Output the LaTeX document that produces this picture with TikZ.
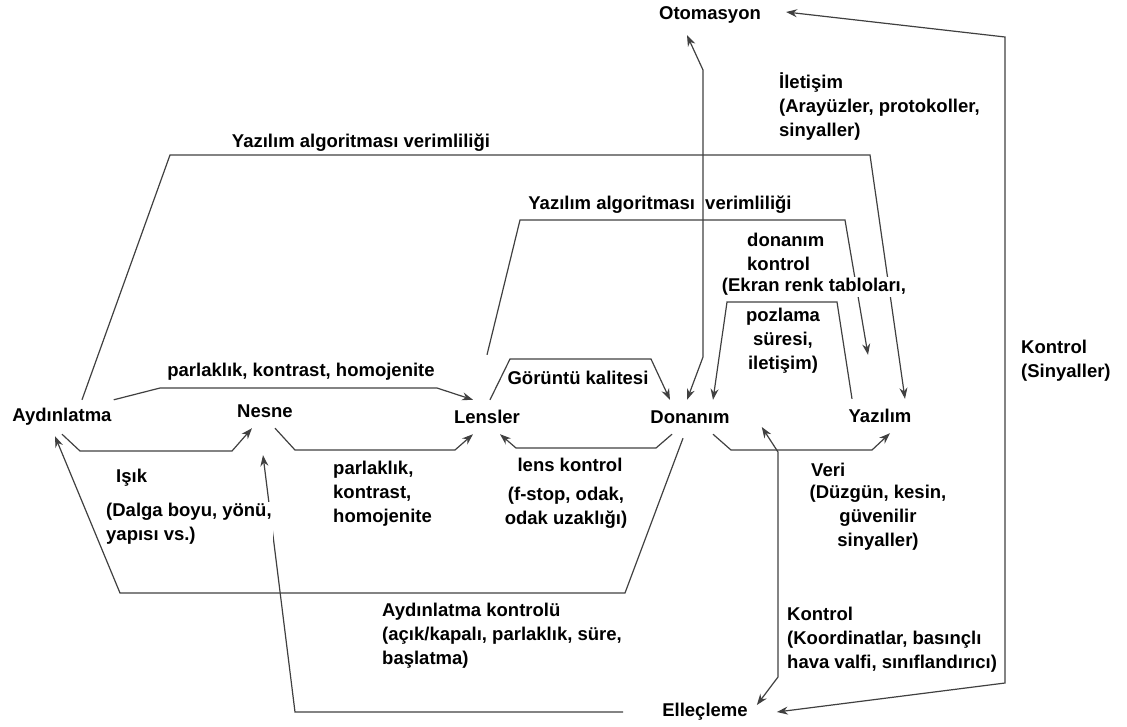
\documentclass[tikz,border=0pt]{standalone}
\usepackage{fontspec}
\setmainfont{Liberation Sans}
\usetikzlibrary{arrows.meta}
\usetikzlibrary{positioning}

\begin{document}
\begin{tikzpicture}[x=1pt, y={(0pt,-1pt)},
		>={Stealth[length=11pt, width=8pt]},
		every node/.style={font=\bfseries\fontsize{18.5}{24}\selectfont},
		unit/.style={inner sep=2pt, minimum height=34pt},
		lbl/.style={inner sep=1pt},
		mask/.style={lbl, fill=white},
		link/.style={draw=black!75, line width=1.2pt, ->},
		both/.style={link, <->},
	]
	\useasboundingbox (0,0) rectangle (1127,726);
	
	\node[unit] (ayd) at (62,417) {Aydınlatma};
	\node[unit] (nes) at (265,411) {Nesne};
	\node[unit] (lens) at (487,417) {Lensler};
	\node[unit] (don) at (690,417) {Donanım};
	\node[unit] (yaz) at (880,416) {Yazılım};
	\node[unit] (oto) at (710,15) {Otomasyon};
	\node[unit] (ell) at (705,712) {Elleçleme};
	
	\draw[link] (ayd.north east) -- (160,388) -- (437,388) -- ([shift={(-14,0)}]lens.north);
	\draw[link] (ayd.south) -- (80,451) -- (232,451) -- ([shift={(-13,0)}]nes.south);
	\draw[link] ([shift={(10,0)}]nes.south) -- (295,450) -- (455,450) -- ([shift={(-14,0)}]lens.south);
	\draw[link] ([shift={(-18,0)}]don.south) -- (656,448) -- (516,448) -- ([shift={(13,0)}]lens.south);
	\draw[link] ([shift={(3,0)}]lens.north) -- (510,359) -- (651,359) -- ([shift={(-20,0)}]don.north);
	\draw[link] ([shift={(23,0)}]don.south) -- (731,450) -- (872,450) -- ([shift={(10,0)}]yaz.south);
	\draw[link] ([shift={(0,-45)}]lens.north) -- (520,220) -- (845,220) -- ([shift={(-12,-44)}]yaz.north);
	\draw[link] ([shift={(20,0)}]ayd.north) -- (170,155) -- (870,155) -- ([shift={(25,0)}]yaz.north);
	\draw[link] ([shift={(-28,0)}]yaz.north) -- (837,302) -- (727,302) -- ([shift={(23,0)}]don.north);
	\draw[both] ([shift={(-3,0)}]don.north) -- (703,357) -- (703,70) -- ([shift={(-23,3)}]oto.south);
	\draw[both] ([shift={(23,-3)}]oto.east) -- (1005,37) -- (1005,683) -- ([shift={(27,0)}]ell.east);
	\draw[both] ([shift={(30,10)}]don.east) -- (778,452) -- (778,677) -- ([shift={(7,-7)}]ell.east);
	\draw[link] ([shift={(-37,0)}]ell.west) -- (295,712) -- ([shift={(-2,27)}]nes.south);
	\draw[link] ([shift={(-7,4)}]don.south) -- (625,593) -- (120,593) -- ([shift={(-7,2)}]ayd.south);
	
	\node[lbl] (l-pkh) at (301,372) {parlaklık, kontrast, homojenite};
	\node[lbl] (l-gor) at (578,378) {Görüntü kalitesi};
	\node[lbl, anchor=west] (l-isik) at (115,478) {Işık};
	\node[mask, align=left, anchor=west] (l-dalga) at (105,524) {(Dalga boyu, yönü,\\yapısı vs.)};
	\node[lbl, align=left, anchor=west] (l-pkh2) at (332,494) {parlaklık,\\kontrast,\\homojenite};
	\node[lbl] (l-lens) at (570,465) {lens kontrol};
	\node[lbl, align=center] (l-fstop) at (566,508) {(f-stop, odak,\\odak uzaklığı)};
	\node[lbl, anchor=west] (l-veri) at (810,470) {Veri};
	\node[lbl, align=center] (l-veri2) at (878,518) {(Düzgün, kesin,\\güvenilir\\sinyaller)};
	\node[lbl, align=left, anchor=west] (l-aydk) at (381,636) {Aydınlatma kontrolü\\(açık/kapalı, parlaklık, süre,\\başlatma)};
	\node[lbl, align=left, anchor=west] (l-ellk) at (786,640) {Kontrol\\(Koordinatlar, basınçlı\\hava valfi, sınıflandırıcı)};
	\node[lbl, align=left, anchor=west] (l-sin) at (1020,361) {Kontrol\\(Sinyaller)};
	\node[lbl, align=left, anchor=west] (l-ilet) at (778,106) {İletişim\\(Arayüzler, protokoller,\\sinyaller)};
	\node[lbl] (l-yaz1) at (361,143) {Yazılım algoritması verimliliği};
	\node[lbl] (l-yaz2) at (660,205) {Yazılım algoritması\ \ verimliliği};
	\node[lbl, align=left, anchor=west] (l-donk) at (746,252) {donanım\\kontrol};
	\node[mask] (l-ekran) at (814,287) {(Ekran renk tabloları,};
	\node[lbl, align=center] (l-poz) at (783,341) {pozlama\\süresi,\\iletişim)};
\end{tikzpicture}
\end{document}
